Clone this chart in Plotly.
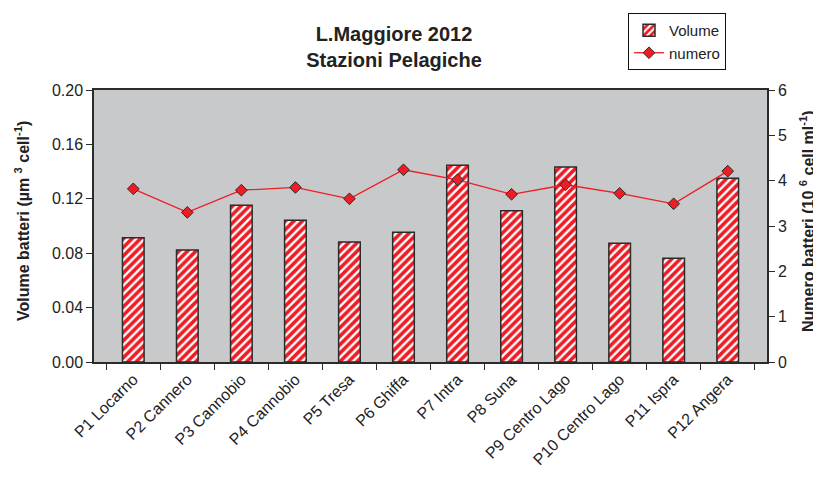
import plotly.graph_objects as go

stations = ["P1 Locarno", "P2 Cannero", "P3 Cannobio", "P4 Cannobio", "P5 Tresa",
            "P6 Ghiffa", "P7 Intra", "P8 Suna", "P9 Centro Lago", "P10 Centro Lago",
            "P11 Ispra", "P12 Angera"]
volume = [0.0914, 0.0824, 0.1152, 0.1042, 0.0882, 0.0954, 0.1446, 0.1113, 0.1434, 0.0873, 0.0762, 0.1351]
numero = [3.82, 3.30, 3.79, 3.85, 3.60, 4.24, 4.02, 3.70, 3.91, 3.72, 3.49, 4.21]

left_ticks = [0.00, 0.04, 0.08, 0.12, 0.16, 0.20]
right_ticks = [0, 1, 2, 3, 4, 5, 6]

RED = "#ee1c25"
DARK = "#2b2b2b"
FONT = "Liberation Sans, Arial, sans-serif"

# the page has an 8px body margin: figure drawn at (8, 8)
OFF = 8
W, H = 821 - OFF, 484 - OFF
L, T = 94 - OFF, 90 - OFF
R, B = 54, 122
PW, PH = W - L - R, H - T - B


def px_x(x):
    return (x - OFF - L) / PW


def px_y(y):
    return (H - B - (y - OFF)) / PH


fig = go.Figure()
fig.add_trace(go.Bar(
    x=stations, y=volume, name="Volume", width=0.4,
    marker=dict(color="white",
                line=dict(color=DARK, width=1.5),
                pattern=dict(shape="/", fgcolor=RED, bgcolor="white", fgopacity=1,
                             size=6, solidity=0.6)),
    yaxis="y",
))
fig.add_trace(go.Scatter(
    x=stations, y=numero, name="numero", mode="lines+markers",
    line=dict(color=RED, width=1.3),
    marker=dict(symbol="diamond", size=9, color=RED, line=dict(color=DARK, width=1)),
    yaxis="y2",
))

fig.update_layout(
    width=W, height=H,
    margin=dict(l=L, r=R, t=T, b=B, autoexpand=False),
    paper_bgcolor="white", plot_bgcolor="#c8c9cb",
    font=dict(family=FONT, color="#222222", size=16),
    title=dict(text="<b>L.Maggiore 2012<br>Stazioni Pelagiche</b>",
               x=(394 - OFF) / W, xanchor="center", y=1 - (41 - OFF) / H, yanchor="middle",
               font=dict(size=20, family=FONT, color="#222222")),
    showlegend=True,
    legend=dict(x=px_x(628), y=px_y(13), xanchor="left", yanchor="top",
                bgcolor="white", bordercolor="#111111", borderwidth=1,
                font=dict(size=15), tracegroupgap=0, itemwidth=30),
    xaxis=dict(type="category", tickangle=-45, tickson="boundaries",
               ticks="outside", ticklen=6, tickcolor=DARK, automargin=False,
               showline=True, linecolor=DARK, linewidth=1.5, mirror=True,
               showgrid=False, tickfont=dict(size=16)),
    yaxis=dict(range=[0, 0.2], tickvals=left_ticks, tickformat=".2f", automargin=False,
               ticks="outside", ticklen=6, tickcolor=DARK,
               showline=True, linecolor=DARK, linewidth=1.5, showgrid=False, zeroline=False),
    yaxis2=dict(range=[0, 6], tickvals=right_ticks, overlaying="y", side="right", automargin=False,
                ticks="outside", ticklen=6, tickcolor=DARK,
                showline=True, linecolor=DARK, linewidth=1.5, showgrid=False, zeroline=False),
    annotations=[
        dict(text="<b>Volume batteri (µm <sup>3</sup> cell<sup>-1</sup>)</b>",
             xref="paper", yref="paper", x=px_x(22), y=px_y(221),
             xanchor="center", yanchor="middle", textangle=-90, showarrow=False,
             font=dict(size=16)),
        dict(text="<b>Numero batteri (10 <sup>6</sup> cell ml<sup>-1</sup>)</b>",
             xref="paper", yref="paper", x=px_x(807), y=px_y(221),
             xanchor="center", yanchor="middle", textangle=-90, showarrow=False,
             font=dict(size=16)),
    ],
)

fig.write_html("out.html")
